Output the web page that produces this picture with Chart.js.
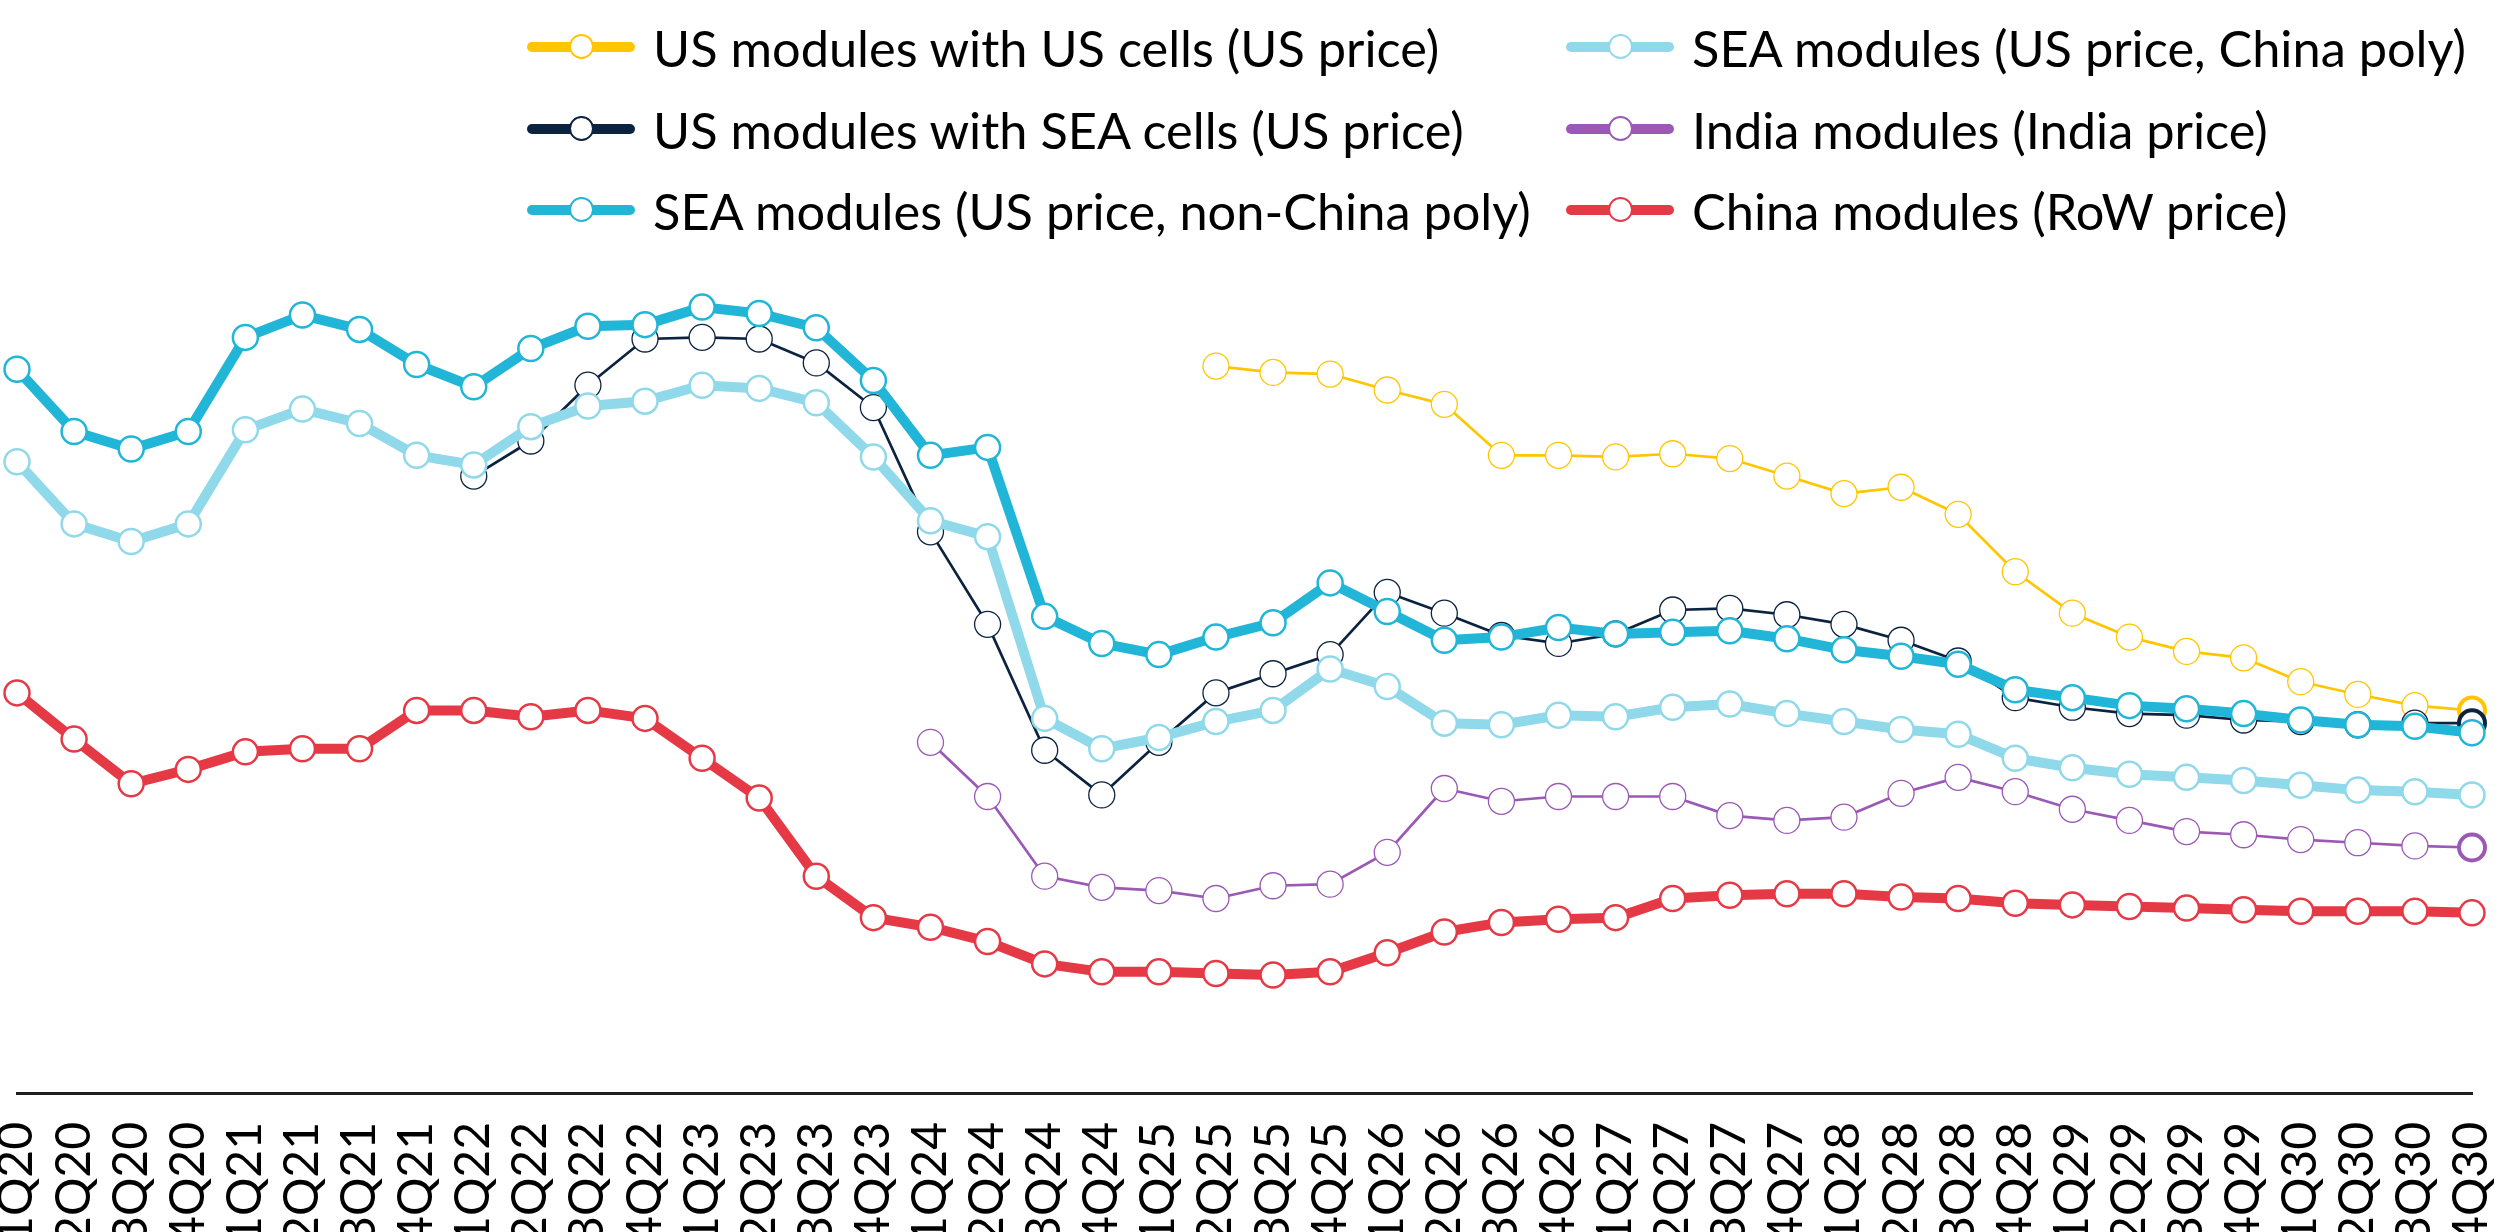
<!DOCTYPE html>
<html>
<head>
<meta charset="utf-8">
<script src="https://cdn.jsdelivr.net/npm/chart.js@4.4.1/dist/chart.umd.min.js"></script>
<style>
    html, body { margin: 0; padding: 0; background: #fff; }
    #wrap { position: relative; width: 2500px; height: 1232px; overflow: hidden; }
    #chart { position: absolute; left: 0; top: 0; }
    #legend { position: absolute; left: 0; top: 0; font-family: Lato, sans-serif; font-size: 50.5px; color: #000; }
    .item { position: absolute; display: flex; align-items: center; height: 60px; white-space: nowrap; }
    .mark { position: relative; width: 108px; height: 26px; flex: none; }
    .mark .ln { position: absolute; left: 0; top: 8px; width: 108px; height: 10px; border-radius: 5px; }
    .mark .pt { position: absolute; left: 42px; top: 0; width: 21px; height: 21px; border-radius: 50%; background: #fff; border: 2.5px solid; }
    .item .txt { margin-left: 18px; }
</style>
</head>
<body>
<div id="wrap">
    <canvas id="chart" width="2500" height="1232"></canvas>
    <div id="legend"></div>
</div>
<script>
const quarters = [
    "1Q20", "2Q20", "3Q20", "4Q20", "1Q21", "2Q21", "3Q21", "4Q21", "1Q22", "2Q22", "3Q22",
    "4Q22", "1Q23", "2Q23", "3Q23", "4Q23", "1Q24", "2Q24", "3Q24", "4Q24", "1Q25", "2Q25",
    "3Q25", "4Q25", "1Q26", "2Q26", "3Q26", "4Q26", "1Q27", "2Q27", "3Q27", "4Q27", "1Q28",
    "2Q28", "3Q28", "4Q28", "1Q29", "2Q29", "3Q29", "4Q29", "1Q30", "2Q30", "3Q30", "4Q30"
];

// no value axis on the original (arbitrary units)
const usModulesUsCells = [
    null, null, null, null, null, null, null, null, null, null, null,
    null, null, null, null, null, null, null, null, null, null,
    45.6, 45.2, 45.1, 44.1, 43.2, 40.0, 40.0, 39.9, 40.1, 39.8, 38.7, 37.6,
    38.0, 36.3, 32.7, 30.1, 28.6, 27.7, 27.3, 25.8, 25.0, 24.3, 24.0
];
const usModulesSeaCells = [
    null, null, null, null, null, null, null, null,
    38.7, 40.9, 44.4, 47.3, 47.4, 47.3, 45.8, 43.0, 35.2, 29.4, 21.5, 18.7, 22.0, 25.1,
    26.3, 27.5, 31.4, 30.1, 28.7, 28.2, 28.8, 30.3, 30.4, 30.0, 29.4,
    28.4, 27.1, 24.8, 24.2, 23.8, 23.7, 23.4, 23.3, 23.1, 23.2, 23.2
];
const seaNonChinaPoly = [
    45.4, 41.5, 40.4, 41.5, 47.4, 48.8, 47.9, 45.7, 44.3, 46.7, 48.1,
    48.2, 49.3, 48.9, 48.0, 44.7, 40.0, 40.5, 29.9, 28.2, 27.5, 28.6,
    29.5, 32.0, 30.2, 28.4, 28.6, 29.2, 28.8, 28.9, 29.0, 28.5, 27.8,
    27.4, 26.9, 25.3, 24.8, 24.3, 24.1, 23.8, 23.4, 23.1, 23.0, 22.6
];
const seaChinaPoly = [
    39.6, 35.7, 34.6, 35.7, 41.6, 42.9, 42.0, 40.0, 39.4, 41.8, 43.1,
    43.4, 44.4, 44.2, 43.3, 39.9, 35.9, 34.9, 23.5, 21.6, 22.3, 23.3,
    24.0, 26.6, 25.5, 23.2, 23.1, 23.7, 23.6, 24.2, 24.4, 23.8, 23.3,
    22.8, 22.5, 21.0, 20.4, 20.0, 19.8, 19.6, 19.3, 19.0, 18.9, 18.7
];
const indiaModules = [
    null, null, null, null, null, null, null, null, null, null, null,
    null, null, null, null, null,
    22.0, 18.6, 13.6, 12.9, 12.7, 12.2, 13.0, 13.1, 15.1, 19.1, 18.3, 18.6, 18.6, 18.6,
    17.4, 17.1, 17.3, 18.8, 19.8, 18.9, 17.8, 17.1, 16.4, 16.2, 15.9, 15.7, 15.5, 15.4
];
const chinaModules = [
    25.1, 22.2, 19.4, 20.3, 21.4, 21.6, 21.6, 24.0, 24.0, 23.6, 24.0,
    23.5, 21.0, 18.5, 13.6, 11.0, 10.4, 9.5, 8.1, 7.6, 7.6, 7.5,
    7.4, 7.6, 8.8, 10.1, 10.7, 10.9, 11.0, 12.2, 12.4, 12.5, 12.5,
    12.3, 12.2, 11.9, 11.8, 11.7, 11.6, 11.5, 11.4, 11.4, 11.4, 11.3
];

const FONT = "Lato";
const lastIndex = quarters.length - 1;

function thickLine(label, data, color, order) {
    return {
        label, data, order,
        borderColor: color,
        backgroundColor: color,
        borderWidth: 10,
        borderJoinStyle: "round",
        borderCapStyle: "round",
        pointRadius: 12.5,
        pointBorderWidth: 2.5,
        pointBackgroundColor: "#fff",
        pointBorderColor: color,
        tension: 0,
        clip: false,
    };
}

function thinLine(label, data, color, order) {
    return {
        label, data, order,
        borderColor: color,
        backgroundColor: color,
        borderWidth: 2.7,
        borderJoinStyle: "round",
        pointRadius: 13,
        pointBorderWidth: ctx => ctx.dataIndex === lastIndex ? 4 : 1.3,
        pointBackgroundColor: "#fff",
        pointBorderColor: color,
        tension: 0,
        clip: false,
    };
}

const datasets = [
    thinLine("US modules with US cells (US price)", usModulesUsCells, "#ffc600", 5),
    thinLine("US modules with SEA cells (US price)", usModulesSeaCells, "#0c2340", 4),
    thickLine("SEA modules (US price, non-China poly)", seaNonChinaPoly, "#21b5d7", 1),
    thickLine("SEA modules (US price, China poly)", seaChinaPoly, "#8fd9ea", 2),
    thinLine("India modules (India price)", indiaModules, "#9b59b6", 3),
    thickLine("China modules (RoW price)", chinaModules, "#e63946", 0),
];

const chart = new Chart(document.getElementById("chart"), {
    type: "line",
    data: {labels: quarters, datasets: datasets},
    options: {
        responsive: false,
        devicePixelRatio: 1,
        animation: false,
        events: [],
        layout: {padding: {top: 280, left: 16, right: 28, bottom: 0}},
        plugins: {
            legend: {display: false},
            tooltip: {enabled: false},
        },
        scales: {
            x: {
                type: "category",
                offset: false,
                grid: {display: false},
                border: {display: true, color: "#231f20", width: 3},
                ticks: {
                    autoSkip: false,
                    minRotation: 90,
                    maxRotation: 90,
                    padding: 21,
                    color: "#000",
                    font: {family: FONT, size: 48},
                },
                afterFit(scale) {
                    scale.height = 139;
                    scale.paddingLeft = 0;
                    scale.paddingRight = 0;
                },
            },
            y: {
                display: false,
                min: 0,
                max: 51,
            },
        },
    },
});

// legend in two columns, filled top to bottom
const legend = document.getElementById("legend");
const colLeft = [527, 1566];
const rowMid = [47, 129, 210];
chart.data.datasets.forEach((ds, i) => {
    const item = document.createElement("div");
    item.className = "item";
    item.style.left = colLeft[Math.floor(i / 3)] + "px";
    item.style.top = (rowMid[i % 3] - 30) + "px";
    item.innerHTML =
        '<div class="mark"><div class="ln" style="background:' + ds.borderColor + '"></div>' +
        '<div class="pt" style="border-color:' + ds.borderColor + '"></div></div>' +
        '<span class="txt">' + ds.label + '</span>';
    legend.appendChild(item);
});
</script>
</body>
</html>
